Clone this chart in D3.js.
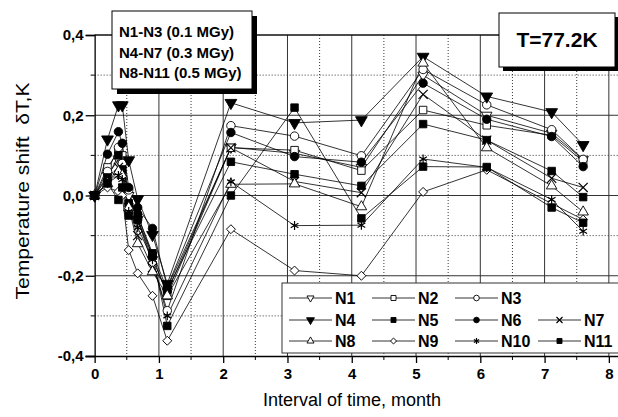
<!DOCTYPE html>
<html>
<head>
<meta charset="utf-8">
<script src="https://cdn.jsdelivr.net/npm/d3@7"></script>
<style>
  body { margin: 0; background: #fff; }
  svg text { font-family: "Liberation Sans", Arial, sans-serif; fill: #000; }
  .tick-label { font-weight: bold; font-size: 15px; }
  .axis-title { font-size: 18px; }
  .legend-label { font-weight: bold; font-size: 16px; }
  .box-text { font-weight: bold; font-size: 15px; }
</style>
</head>
<body>
<div id="chart"></div>
<script>
// Temperature shift vs time chart
(function() {
  const months = [0, 0.2, 0.37, 0.43, 0.53, 0.67, 0.9, 1.13, 2.12, 3.11, 4.15, 5.11, 6.1, 7.11, 7.6];

  const N1 = [0, 0.05, 0.09, 0.08, 0.0, -0.06, -0.16, -0.24, 0.12, 0.105, 0.07, 0.30, 0.2, 0.155, 0.09];
  const N2 = [0, 0.07, 0.11, 0.10, -0.02, -0.05, -0.15, -0.25, 0.119, 0.113, 0.062, 0.213, 0.175, 0.15, 0.085];
  const N3 = [0, 0.06, 0.12, 0.08, 0.014, -0.06, -0.17, -0.287, 0.174, 0.148, 0.099, 0.314, 0.226, 0.164, 0.09];
  const N4 = [0, 0.14, 0.225, 0.225, 0.088, -0.009, -0.098, -0.22, 0.231, 0.181, 0.188, 0.346, 0.247, 0.208, 0.126];
  const N5 = [0, 0.045, 0.10, 0.065, -0.02, -0.05, -0.144, -0.235, 0.084, 0.053, 0.024, 0.178, 0.138, 0.061, -0.004];
  const N6 = [0, 0.103, 0.159, 0.13, 0.02, -0.03, -0.082, -0.228, 0.157, 0.097, 0.083, 0.28, 0.19, 0.147, 0.072];
  const N7 = [0, 0.03, 0.07, 0.06, -0.03, -0.10, -0.18, -0.23, 0.119, 0.035, 0.007, 0.252, 0.138, 0.043, 0.02];
  const N8 = [0, 0.03, 0.06, 0.05, -0.03, -0.12, -0.19, -0.25, 0.028, 0.029, -0.028, 0.33, 0.119, 0.024, -0.041];
  const N9 = [0, 0.02, 0.01, 0.0, -0.136, -0.194, -0.25, -0.362, -0.084, -0.187, -0.2, 0.009, 0.064, -0.02, -0.06];
  const N10 = [0, 0.03, 0.05, 0.04, -0.04, -0.08, -0.16, -0.3, 0.034, -0.075, -0.074, 0.091, 0.07, -0.01, -0.089];
  const N11 = [0, 0.03, -0.011, 0.02, -0.05, -0.06, -0.15, -0.325, 0.0, 0.219, -0.057, 0.072, 0.071, -0.03, -0.068];

  const seriesNames = ["N1", "N2", "N3", "N4", "N5", "N6", "N7", "N8", "N9", "N10", "N11"];
  const seriesValues = [N1, N2, N3, N4, N5, N6, N7, N8, N9, N10, N11];

  const xTicks = [0, 1, 2, 3, 4, 5, 6, 7, 8];
  const yTicks = [-0.4, -0.2, 0, 0.2, 0.4];
  const doseLines = ["N1-N3 (0.1 MGy)", "N4-N7 (0.3 MGy)", "N8-N11 (0.5 MGy)"];
  const tempLabel = "T=77.2K";

  // marker style per series: symbol, filled?, rotation
  const markers = {
    N1: { sym: d3.symbolTriangle, fill: false, rot: 180, size: 48 },
    N2: { sym: d3.symbolSquare, fill: false, rot: 0, size: 56 },
    N3: { sym: d3.symbolCircle, fill: false, rot: 0, size: 56 },
    N4: { sym: d3.symbolTriangle, fill: true, rot: 180, size: 60 },
    N5: { sym: d3.symbolSquare, fill: true, rot: 0, size: 56 },
    N6: { sym: d3.symbolCircle, fill: true, rot: 0, size: 56 },
    N7: { sym: d3.symbolTimes, fill: false, rot: 0, size: 56, stroke: true },
    N8: { sym: d3.symbolTriangle, fill: false, rot: 0, size: 48 },
    N9: { sym: d3.symbolSquare, fill: false, rot: 45, size: 40 },
    N10: { sym: d3.symbolAsterisk, fill: false, rot: 0, size: 56, stroke: true },
    N11: { sym: d3.symbolSquare, fill: true, rot: 0, size: 56 }
  };

  const width = 618, height = 417;
  const svg = d3.select("#chart").append("svg")
    .attr("width", width)
    .attr("height", height);

  const x = d3.scaleLinear().domain([-0.15, 8.15]).range([85, 618.5]);
  const y = d3.scaleLinear().domain([-0.4, 0.4]).range([356, 35]);

  // grid
  const grid = svg.append("g");
  const xMinor = d3.range(0.5, 8, 1);
  const yMinor = [-0.3, -0.1, 0.1, 0.3];
  grid.selectAll(".vminor").data(xMinor).enter().append("line")
    .attr("x1", d => x(d)).attr("x2", d => x(d))
    .attr("y1", y(0.4)).attr("y2", y(-0.4))
    .attr("stroke", "#000").attr("stroke-width", 0.8).attr("stroke-dasharray", "1,2");
  grid.selectAll(".hminor").data(yMinor).enter().append("line")
    .attr("x1", x(0)).attr("x2", x(8.15))
    .attr("y1", d => y(d)).attr("y2", d => y(d))
    .attr("stroke", "#000").attr("stroke-width", 0.8).attr("stroke-dasharray", "1,2");
  grid.selectAll(".vmajor").data(xTicks.slice(1)).enter().append("line")
    .attr("x1", d => x(d)).attr("x2", d => x(d))
    .attr("y1", y(0.4)).attr("y2", y(-0.4))
    .attr("stroke", "#333").attr("stroke-width", 1);
  grid.selectAll(".hmajor").data(yTicks.slice(1)).enter().append("line")
    .attr("x1", x(0)).attr("x2", x(8.15))
    .attr("y1", d => y(d)).attr("y2", d => y(d))
    .attr("stroke", "#333").attr("stroke-width", 1);

  // series lines + markers
  const line = d3.line().x((d, i) => x(months[i])).y(d => y(d));
  const plot = svg.append("g");
  seriesNames.forEach((name, si) => {
    plot.append("path")
      .datum(seriesValues[si])
      .attr("d", line)
      .attr("fill", "none")
      .attr("stroke", "#000")
      .attr("stroke-width", 0.8);
  });

  function drawMarker(sel, name, scale) {
    const m = markers[name];
    sel.append("path")
      .attr("d", d3.symbol().type(m.sym).size(m.size * scale)())
      .attr("transform", `rotate(${m.rot})`)
      .attr("fill", m.stroke ? "none" : (m.fill ? "#000" : "#fff"))
      .attr("stroke", "#000")
      .attr("stroke-width", m.stroke ? 1.2 : 0.9);
  }

  seriesNames.forEach((name, si) => {
    const g = plot.selectAll(`.pt-${name}`)
      .data(seriesValues[si])
      .enter().append("g")
      .attr("transform", (d, i) => `translate(${x(months[i])},${y(d)})`);
    g.each(function() { drawMarker(d3.select(this), name, 1); });
  });

  // axes
  const axisG = svg.append("g");
  const yAxis = axisG.append("g")
    .attr("transform", `translate(${x(0)},0)`)
    .call(d3.axisLeft(y).tickValues(yTicks).tickSize(9).tickPadding(2)
      .tickFormat(d => d3.format(".1f")(d).replace(".", ",").replace("−", "-")));
  yAxis.selectAll("text").attr("class", "tick-label").attr("font-size", null).attr("font-family", null);
  yAxis.selectAll("line, path").attr("stroke", "#000").attr("stroke-width", 1.3);
  axisG.append("g").selectAll("line").data(yMinor).enter().append("line")
    .attr("x1", x(0) - 4).attr("x2", x(0))
    .attr("y1", d => y(d)).attr("y2", d => y(d))
    .attr("stroke", "#000");

  const xAxis = axisG.append("g")
    .attr("transform", `translate(0,${y(-0.4)})`)
    .call(d3.axisBottom(x).tickValues(xTicks).tickSize(7).tickPadding(5).tickSizeOuter(0));
  xAxis.selectAll("text").attr("class", "tick-label").attr("font-size", null).attr("font-family", null);
  xAxis.selectAll("line, path").attr("stroke", "#000").attr("stroke-width", 1.3);
  axisG.append("g").selectAll("line").data(xMinor).enter().append("line")
    .attr("x1", d => x(d)).attr("x2", d => x(d))
    .attr("y1", y(-0.4)).attr("y2", y(-0.4) + 4)
    .attr("stroke", "#000");

  // top frame
  axisG.append("line")
    .attr("x1", x(0)).attr("x2", x(8.15))
    .attr("y1", y(0.4)).attr("y2", y(0.4))
    .attr("stroke", "#000").attr("stroke-width", 1.2);

  // axis titles
  svg.append("text")
    .attr("class", "axis-title")
    .attr("x", 352).attr("y", 406)
    .attr("text-anchor", "middle")
    .text("Interval of time, month");
  svg.append("text")
    .attr("class", "axis-title")
    .attr("transform", "translate(29,191) rotate(-90)")
    .attr("text-anchor", "middle")
    .attr("textLength", 217)
    .attr("lengthAdjust", "spacingAndGlyphs")
    .style("font-size", "19px")
    .style("white-space", "pre")
    .text("Temperature shift  \u03B4T,K");

  // dose box
  const box = svg.append("g");
  box.append("rect").attr("x", 117).attr("y", 16).attr("width", 140).attr("height", 78).attr("fill", "#000");
  box.append("rect").attr("x", 112).attr("y", 11).attr("width", 140).attr("height", 78)
    .attr("fill", "#fff").attr("stroke", "#000").attr("stroke-width", 1);
  box.selectAll("text").data(doseLines).enter().append("text")
    .attr("class", "box-text")
    .attr("x", 119)
    .attr("y", (d, i) => 37 + i * 20.7)
    .text(d => d);

  // temperature box
  const tbox = svg.append("g");
  tbox.append("rect").attr("x", 503).attr("y", 17).attr("width", 116).attr("height", 54).attr("fill", "#000");
  tbox.append("rect").attr("x", 499).attr("y", 13).attr("width", 116).attr("height", 54)
    .attr("fill", "#fff").attr("stroke", "#000").attr("stroke-width", 1);
  tbox.append("text")
    .attr("x", 557).attr("y", 47)
    .attr("text-anchor", "middle")
    .style("font-weight", "bold").style("font-size", "21px")
    .text(tempLabel);

  // legend
  const legend = svg.append("g");
  legend.append("rect").attr("x", 282).attr("y", 283).attr("width", 345).attr("height", 70)
    .attr("fill", "#fff").attr("stroke", "#333").attr("stroke-width", 1);
  const colX = [289, 372, 455, 538];
  const rowY = [298, 320, 341];
  const layout = [[0, 1, 2], [3, 4, 5, 6], [7, 8, 9, 10]];
  layout.forEach((row, r) => {
    row.forEach((si, c) => {
      const name = seriesNames[si];
      const item = legend.append("g").attr("transform", `translate(${colX[c]},${rowY[r]})`);
      item.append("line").attr("x1", 0).attr("x2", 43).attr("y1", 0).attr("y2", 0)
        .attr("stroke", "#000").attr("stroke-width", 0.8);
      const mg = item.append("g").attr("transform", "translate(21.5,0)");
      drawMarker(mg, name, 0.45);
      item.append("text")
        .attr("class", "legend-label")
        .attr("x", 46).attr("y", 6)
        .text(name);
    });
  });
})();
</script>
</body>
</html>
